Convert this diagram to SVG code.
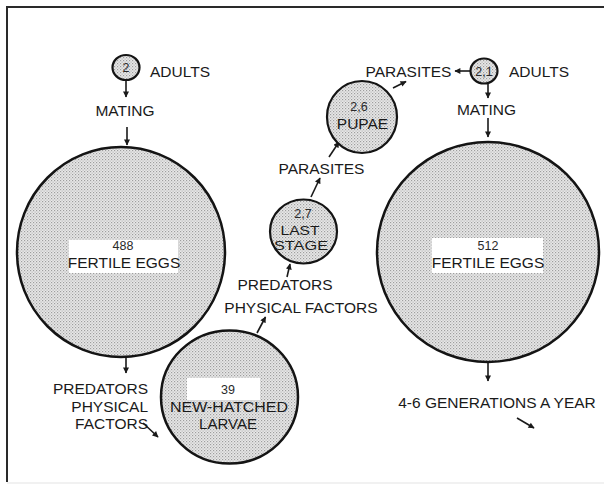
<svg xmlns="http://www.w3.org/2000/svg" width="604" height="486" viewBox="0 0 604 486">
<style>
.lbl{font-family:"Liberation Sans",Arial,sans-serif;font-size:15.5px;fill:#1a1a1a}
.num{font-family:"Liberation Sans",Arial,sans-serif;font-size:12.5px;fill:#2a2a2a}
.node{fill:url(#stip);stroke:#141414;stroke-width:2.5}
.small{fill:url(#stip);stroke:#141414;stroke-width:2.2}
.box{fill:#ffffff}
.con{stroke:#1a1a1a;stroke-width:1.6;fill:none;marker-end:url(#ah)}
.frame{stroke:#2a2a2a;stroke-width:2;fill:none}
</style>
<defs>
<pattern id="stip" width="3" height="3" patternUnits="userSpaceOnUse">
<rect width="3" height="3" fill="#e8e8e8"/>
<rect x="0" y="0" width="1.2" height="1.2" fill="#9e9e9e"/>
<rect x="1.5" y="1.5" width="1.2" height="1.2" fill="#b6b6b6"/>
</pattern>
<marker id="ah" viewBox="0 0 10 10" refX="9" refY="5" markerWidth="7" markerHeight="6" markerUnits="userSpaceOnUse" orient="auto">
<path d="M0,0 L10,5 L0,10 z" fill="#1a1a1a"/>
</marker>
</defs>
<rect width="604" height="486" fill="#ffffff"/>
<g id="frame">
<path class="frame" d="M7,482 L7,7 L604,7"/>
<line x1="7" y1="483" x2="604" y2="483" stroke="#ececec" stroke-width="1.5"/>
</g>

<g id="connectors">
<line class="con" x1="126" y1="80.5" x2="126" y2="97"/>
<line class="con" x1="127" y1="127" x2="127" y2="145"/>
<line class="con" x1="126" y1="357" x2="126" y2="373"/>
<line class="con" x1="143" y1="423" x2="158" y2="437"/>
<line class="con" x1="257" y1="333" x2="265.5" y2="317"/>
<line class="con" x1="287" y1="277" x2="290" y2="264"/>
<line class="con" x1="311" y1="197" x2="320" y2="178"/>
<line class="con" x1="329" y1="157" x2="339" y2="142"/>
<line class="con" x1="393" y1="88" x2="406" y2="81.5"/>
<line class="con" x1="470.5" y1="71" x2="455" y2="71"/>
<line class="con" x1="488" y1="84" x2="488" y2="98"/>
<line class="con" x1="488" y1="118" x2="488" y2="137"/>
<line class="con" x1="488" y1="362" x2="488" y2="381"/>
<line class="con" x1="517" y1="418" x2="534" y2="428"/>
</g>

<g id="adults-left">
<ellipse class="small" cx="126" cy="67.5" rx="13.5" ry="12.5"/>
<text class="num" x="126" y="72" text-anchor="middle">2</text>
<text class="lbl" x="150" y="77">ADULTS</text>
</g>
<g id="mating-left">
<text class="lbl" x="125" y="116" text-anchor="middle">MATING</text>
</g>

<g id="eggs-left">
<ellipse class="node" cx="121" cy="252" rx="104" ry="105"/>
<rect class="box" x="69" y="240" width="109" height="33"/>
<text class="num" x="123" y="250" text-anchor="middle">488</text>
<text class="lbl" x="124" y="267.5" text-anchor="middle">FERTILE EGGS</text>
</g>

<g id="factors-left">
<text class="lbl" x="148" y="394" text-anchor="end">PREDATORS</text>
<text class="lbl" x="148" y="411.5" text-anchor="end">PHYSICAL</text>
<text class="lbl" x="148" y="428.5" text-anchor="end">FACTORS</text>
</g>

<g id="larvae">
<ellipse class="node" cx="229.5" cy="397" rx="68.5" ry="66.5"/>
<rect class="box" x="187" y="378" width="73" height="22"/>
<text class="num" x="228" y="394" text-anchor="middle">39</text>
<text class="lbl" x="229" y="412" text-anchor="middle" style="font-size:15px" textLength="118" lengthAdjust="spacingAndGlyphs">NEW-HATCHED</text>
<text class="lbl" x="228" y="429" text-anchor="middle" style="font-size:15px">LARVAE</text>
</g>

<g id="factors-mid">
<text class="lbl" x="285" y="290" text-anchor="middle">PREDATORS</text>
<text class="lbl" x="301" y="312.5" text-anchor="middle">PHYSICAL FACTORS</text>
</g>

<g id="last-stage">
<ellipse class="small" cx="303.5" cy="231.5" rx="33.5" ry="32"/>
<text class="num" x="303" y="218" text-anchor="middle">2,7</text>
<text class="lbl" x="300" y="234.5" text-anchor="middle" style="font-size:13.5px" textLength="39" lengthAdjust="spacingAndGlyphs">LAST</text>
<text class="lbl" x="301" y="249.5" text-anchor="middle" style="font-size:13.5px" textLength="54" lengthAdjust="spacingAndGlyphs">STAGE</text>
</g>

<g id="parasites-mid">
<text class="lbl" x="321.5" y="174" text-anchor="middle">PARASITES</text>
</g>

<g id="pupae">
<ellipse class="small" cx="362" cy="117" rx="35" ry="36"/>
<text class="num" x="359" y="110.5" text-anchor="middle">2,6</text>
<text class="lbl" x="362.5" y="128.5" text-anchor="middle">PUPAE</text>
</g>

<g id="parasites-top">
<text class="lbl" x="408.5" y="77" text-anchor="middle">PARASITES</text>
</g>

<g id="adults-right">
<ellipse class="small" cx="484" cy="71" rx="13.5" ry="12.5"/>
<text class="num" x="484" y="75.5" text-anchor="middle">2,1</text>
<text class="lbl" x="509" y="77">ADULTS</text>
</g>
<g id="mating-right">
<text class="lbl" x="486.5" y="115" text-anchor="middle">MATING</text>
</g>

<g id="eggs-right">
<ellipse class="node" cx="488" cy="252" rx="111" ry="110"/>
<rect class="box" x="432" y="238" width="111" height="35"/>
<text class="num" x="488" y="249.5" text-anchor="middle">512</text>
<text class="lbl" x="488" y="267.5" text-anchor="middle">FERTILE EGGS</text>
</g>

<g id="generations">
<text class="lbl" x="497" y="408" text-anchor="middle">4-6 GENERATIONS A YEAR</text>
</g>
</svg>
